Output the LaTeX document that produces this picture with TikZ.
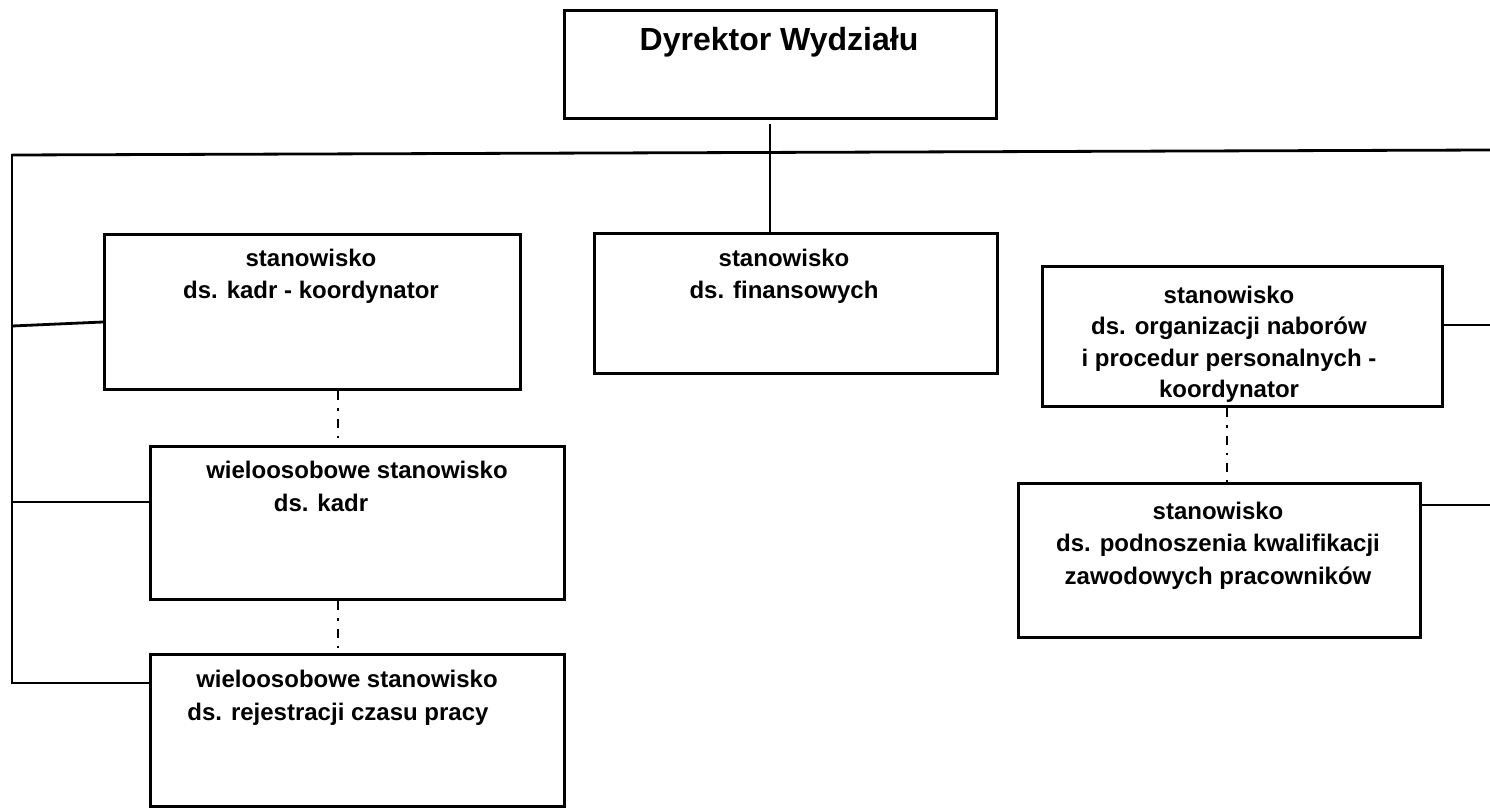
\documentclass[tikz,border=0pt]{standalone}
\usepackage{fontspec}
\setmainfont{Liberation Sans}
\begin{document}
\begin{tikzpicture}[x=1pt,y=-1pt,
  box/.style={draw, line width=3pt, rectangle, inner sep=0pt, anchor=north west},
  conn/.style={line width=2.8pt},
  dd/.style={line width=2.8pt, dash pattern=on 9pt off 8pt on 2.5pt off 8pt},
  lbl/.style={font=\fontsize{24}{32.5}\selectfont\bfseries, align=center, anchor=base, inner sep=0pt},
]
\useasboundingbox (0,0) rectangle (1490,808);
% boxes
\node[box, minimum width=432pt, minimum height=108pt] (dir) at (563,9) {};
\node[box, minimum width=416pt, minimum height=155pt] (kadr) at (103,233) {};
\node[box, minimum width=403pt, minimum height=140pt] (fin) at (593,232) {};
\node[box, minimum width=400pt, minimum height=140pt] (org) at (1041,265) {};
\node[box, minimum width=414pt, minimum height=153pt] (w1) at (149,445) {};
\node[box, minimum width=414pt, minimum height=152pt] (w2) at (149,653) {};
\node[box, minimum width=402pt, minimum height=154pt] (pod) at (1017,482) {};
% labels (base anchor = baseline of last line)
\node[lbl, font=\fontsize{32}{38}\selectfont\bfseries] (tdir) at (779,51) {Dyrektor Wydziału};
\node[lbl] (tkadr) at (311,298.5) {stanowisko\\ds. kadr - koordynator};
\node[lbl] (tfin) at (784,298.5) {stanowisko\\ds. finansowych};
\node[lbl, font=\fontsize{24}{31.5}\selectfont\bfseries] (torg) at (1229,397.5) {stanowisko\\ds. organizacji naborów\\i procedur personalnych -\\koordynator};
\node[lbl] (tpod) at (1218,584) {stanowisko\\ds. podnoszenia kwalifikacji\\zawodowych pracowników};
\node[lbl] (tw1a) at (357,478) {wieloosobowe stanowisko};
\node[lbl] (tw1b) at (321,511) {ds. kadr};
\node[lbl] (tw2a) at (347,687) {wieloosobowe stanowisko};
\node[lbl] (tw2b) at (338,720) {ds. rejestracji czasu pracy};
% helper coordinates
\coordinate (hl) at (12,155);
\coordinate (hr) at (1490,150);
\coordinate (vb) at (12,683);
\coordinate (dtop) at (770,124);
\coordinate (l1) at (12,326);
\coordinate (l2) at (12,502);
\coordinate (l3) at (12,683);
\coordinate (r1) at (1490,325);
\coordinate (r2) at (1490,505);
% connectors
\draw[conn] (hl) -- (hr);
\draw[conn, line cap=rect] (hl) -- (vb);
\draw[conn] (dtop) -- (dtop |- fin.north);
\draw[conn] (l1) -- (kadr.west |- 0,322);
\draw[conn] (l2) -- (w1.west |- l2);
\draw[conn] (l3) -- (w2.west |- l3);
\draw[conn] (org.east |- r1) -- (r1);
\draw[conn] (pod.east |- r2) -- (r2);
\draw[dd] (338,388) coordinate (k1) (k1 |- kadr.south) -- (k1 |- w1.north);
\draw[dd] (k1 |- w1.south) -- (k1 |- w2.north);
\draw[dd] (1227,405) coordinate (o1) (o1 |- org.south) -- (o1 |- pod.north);
\end{tikzpicture}
\end{document}
